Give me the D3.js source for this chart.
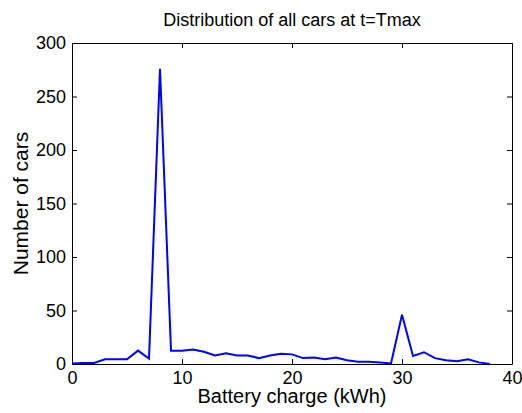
<html lang="en">
<head>
<style>
	body { margin: 0; background: #fff; }
	text { font-family: "Liberation Sans", Arial, sans-serif; fill: #000; }
</style>
</head>
<body>
<svg width="522" height="413"></svg>
<script type='text/javascript' src='https://d3js.org/d3.v7.min.js'></script>
<script>
	// battery charge bins (kWh) and car counts
	var charge = [0, 1, 2, 3, 4, 5, 6, 7, 8, 9, 10, 11, 12, 13, 14, 15, 16, 17, 18, 19,
		20, 21, 22, 23, 24, 25, 26, 27, 28, 29, 30, 31, 32, 33, 34, 35, 36, 37, 38];
	var cars = [0.5, 1, 1, 4.5, 4.5, 4.5, 12.5, 5, 276, 12.5, 12.5, 13.5, 11.5, 8, 10, 8, 8, 5.5, 8, 9.5,
		9, 5.5, 6, 4.5, 6, 3.5, 2, 2, 1.5, 0.5, 46, 7.5, 11, 5.5, 3.5, 2.5, 4.5, 1.5, 0];
	var xTicks = [0, 10, 20, 30, 40];
	var yTicks = [0, 50, 100, 150, 200, 250, 300];

	var svg = d3.select("svg");
	var mLeft = 72, mRight = 512, mTop = 43, mBottom = 364;

	var x = d3.scaleLinear().domain([0, 40]).range([mLeft, mRight]);
	var y = d3.scaleLinear().domain([0, 300]).range([mBottom, mTop]);

	// bottom and left axes with inward ticks, top/right mirrored
	var tickLen = 5;
	svg.append("g")
	.attr("transform", "translate(0," + mBottom + ")")
	.call(d3.axisBottom(x).tickValues(xTicks).tickSizeInner(-tickLen).tickSizeOuter(0).tickPadding(7))
	.call(function(g) { g.selectAll("text").attr("font-size", "18px"); });
	svg.append("g")
	.attr("transform", "translate(0," + mTop + ")")
	.call(d3.axisTop(x).tickValues(xTicks).tickSizeInner(-tickLen).tickSizeOuter(0).tickFormat(""));
	svg.append("g")
	.attr("transform", "translate(" + mLeft + ",0)")
	.call(d3.axisLeft(y).tickValues(yTicks).tickSizeInner(-tickLen).tickSizeOuter(0).tickPadding(6))
	.call(function(g) { g.selectAll("text").attr("font-size", "18px"); });
	svg.append("g")
	.attr("transform", "translate(" + mRight + ",0)")
	.call(d3.axisRight(y).tickValues(yTicks).tickSizeInner(-tickLen).tickSizeOuter(0).tickFormat(""));

	svg.selectAll(".domain").attr("stroke", "#000");
	svg.selectAll(".tick line").attr("stroke", "#000");
	svg.selectAll(".tick text").attr("fill", "#000").style("font-family", "'Liberation Sans', Arial, sans-serif");

	var line = d3.line()
	.x(function(d, i) { return x(charge[i]); })
	.y(function(d) { return y(d); });

	svg.append("path")
	.datum(cars)
	.attr("fill", "none")
	.attr("stroke", "#0000ff")
	.attr("stroke-width", 2)
	.attr("d", line);

	svg.append("text")
	.attr("x", (mLeft + mRight) / 2)
	.attr("y", 26)
	.attr("text-anchor", "middle")
	.attr("font-size", "18px")
	.text("Distribution of all cars at t=Tmax");

	svg.append("text")
	.attr("x", (mLeft + mRight) / 2)
	.attr("y", 403)
	.attr("text-anchor", "middle")
	.attr("font-size", "20px")
	.text("Battery charge (kWh)");

	svg.append("text")
	.attr("transform", "translate(28," + (mTop + mBottom) / 2 + ") rotate(-90)")
	.attr("text-anchor", "middle")
	.attr("font-size", "21px")
	.text("Number of cars");
</script>
</body>
</html>
